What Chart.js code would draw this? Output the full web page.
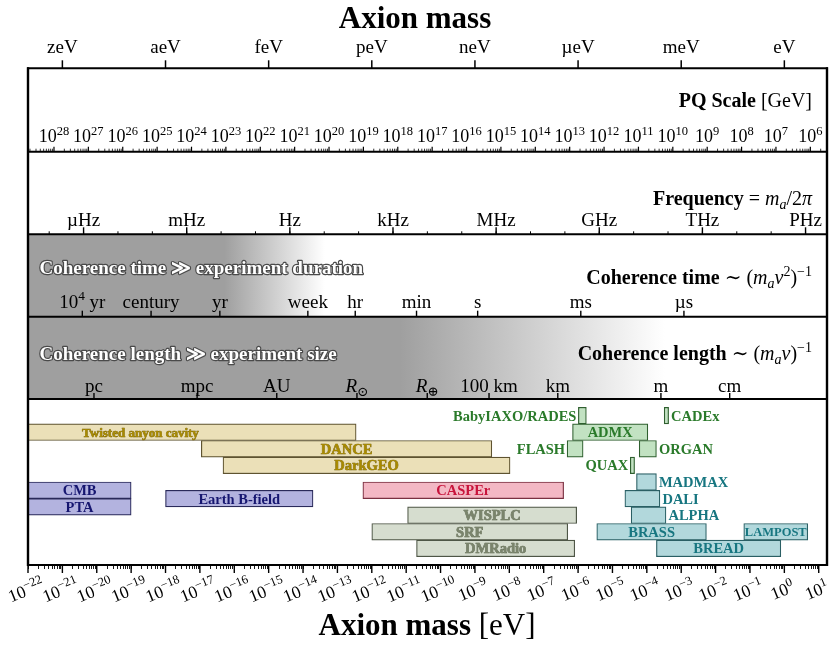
<!DOCTYPE html>
<html><head><meta charset="utf-8">
<script src="https://cdn.jsdelivr.net/npm/chart.js@4.4.1/dist/chart.umd.min.js"></script>
<style>html,body{margin:0;padding:0;background:#fff;}canvas{display:block;}</style>
</head><body>
<canvas id="c" width="838" height="648"></canvas>
<script>
// ---------------- data ----------------
const experiments = ['Twisted anyon cavity','DANCE','DarkGEO','CMB','PTA','Earth B-field','CASPEr','WISPLC','SRF','DMRadio','BabyIAXO/RADES','CADEx','ADMX','FLASH','ORGAN','QUAX','MADMAX','DALI','ALPHA','BRASS','LAMPOST','BREAD'];
const massLow  = [1e-25, 1.1e-17, 4.7e-17, 1e-22, 1e-22, 1e-18, 5.5e-13, 1.1e-11, 1e-12, 2e-11, 1.02e-6, 3.2e-4, 6.9e-7, 4.8e-7, 6e-5, 3.3e-5, 5e-5, 2.3e-5, 3.5e-5, 3.5e-6, 6.6e-2, 1.9e-4];
const massHigh = [3.5e-13, 3.1e-9, 1.05e-8, 1e-19, 1e-19, 1.95e-14, 3.8e-7, 9.1e-7, 5e-7, 8e-7, 1.74e-6, 4.3e-4, 1.07e-4, 1.4e-6, 1.9e-4, 4.4e-5, 1.9e-4, 2.4e-4, 3.6e-4, 5.4e-3, 4.8, 0.79];
const rowIndex = [1, 2, 3, 4.5, 5.5, 5, 4.5, 6, 7, 8, 0, 0, 1, 2, 2, 3, 4, 5, 6, 7, 7, 8];
const groupOf  = ['tan','tan','tan','blue','blue','blue','pink','sage','sage','sage','green','green','green','green','green','green','teal','teal','teal','teal','teal','teal'];
const labelSide = ['center','center','center','center','center','center','center','center','center','center','left','right','center','left','right','left','right','right','right','center','center','center'];

const unitLabels = ['zeV','aeV','feV','peV','neV','µeV','meV','eV'];
const unitMass   = [1e-21, 1e-18, 1e-15, 1e-12, 1e-9, 1e-6, 1e-3, 1];
const pqExponents = [28,27,26,25,24,23,22,21,20,19,18,17,16,15,14,13,12,11,10,9,8,7,6];
const freqLabels = ['µHz','mHz','Hz','kHz','MHz','GHz','THz','PHz'];
const freqHz     = [1e-6, 1e-3, 1, 1e3, 1e6, 1e9, 1e12, 1e15];
const timeLabels = ['10^{4} yr','century','yr','week','hr','min','s','ms','µs'];
const timeMass   = [3.8e-21, 3.8e-19, 3.8e-17, 1.38e-14, 3.3e-13, 2.0e-11, 1.2e-9, 1.2e-6, 1.2e-3];
const lengthLabels = ['pc','mpc','AU','$R$_{⊙}','$R$_{⊕}','100 km','km','m','cm'];
const lengthMass   = [8.3e-21, 8.3e-18, 1.72e-15, 3.7e-13, 4.1e-11, 2.57e-9, 2.57e-7, 2.57e-4, 2.57e-2];
const bottomExponents = [-22,-21,-20,-19,-18,-17,-16,-15,-14,-13,-12,-11,-10,-9,-8,-7,-6,-5,-4,-3,-2,-1,0,1];

const PLANCK = 4.1357e-15;   // eV per Hz
const PQ_CONST = 5.7e6;      // m_a [eV] * f_a [GeV]

// ---------------- styles ----------------
const SERIF = '"Liberation Serif","DejaVu Serif",serif';
const GRAY = '#9f9f9f';
const GROUP = {
  tan:   {fill:'#ebe0b8', border:'#5e5330', text:'#a88a00', stroke:'#6e5c10'},
  blue:  {fill:'#b3b3df', border:'#2a2a5a', text:'#161670'},
  pink:  {fill:'#f3b8c4', border:'#7a3040', text:'#c8143c'},
  sage:  {fill:'#d6ddcf', border:'#4e5646', text:'#7a846c', stroke:'#56604a'},
  green: {fill:'#c2e2c2', border:'#2f5f2f', text:'#2a7a2a'},
  teal:  {fill:'#b2d8dc', border:'#2a5f64', text:'#177680'}
};
const labelSize = {'Twisted anyon cavity':13, 'LAMPOST':12.5};

function font(size,bold,italic){return (italic?'italic ':'')+(bold?'bold ':'')+size+'px '+SERIF;}
function parseRich(str,size,bold){
  const segs=[];let i=0,italic=false,buf='';
  const push=(t,o)=>{if(t)segs.push(Object.assign({t:t,size:size,bold:bold,italic:italic,dy:0},o||{}));};
  while(i<str.length){
    const c=str[i];
    if((c==='^'||c==='_')&&str[i+1]==='{'){
      push(buf);buf='';
      const j=str.indexOf('}',i);
      push(str.slice(i+2,j),{size:size*0.7,dy:c==='^'?-size*0.4:size*0.22});
      i=j+1;continue;
    }
    if(c==='$'){push(buf);buf='';italic=!italic;i++;continue;}
    buf+=c;i++;
  }
  push(buf);return segs;
}
function drawRich(ctx,segs,x,y,align,stroke){
  let w=0;
  segs.forEach(s=>{ctx.font=font(s.size,s.bold,s.italic);s.w=ctx.measureText(s.t).width;w+=s.w;});
  const x0=align==='right'?x-w:align==='center'?x-w/2:x;
  ctx.textAlign='left';ctx.textBaseline='alphabetic';
  const passes=stroke?['s','f']:['f'];
  passes.forEach(p=>{let cx=x0;segs.forEach(s=>{ctx.font=font(s.size,s.bold,s.italic);
    if(p==='s')ctx.strokeText(s.t,cx,y+s.dy);else ctx.fillText(s.t,cx,y+s.dy);cx+=s.w;});});
  return w;
}
function vtick(ctx,x,y0,len){ctx.beginPath();ctx.moveTo(x,y0);ctx.lineTo(x,y0+len);ctx.stroke();}

const panels={
  id:'panels',
  afterDraw(chart){
    const ctx=chart.ctx,xs=chart.scales.x,ca=chart.chartArea;
    const L=ca.left,R=ca.right,px=v=>xs.getPixelForValue(v);
    const yTop=68.3,yPQ=151.7,yFreq=234.3,yTime=316.7,yLen=ca.top,yBot=ca.bottom;
    ctx.save();
    // shaded bands
    let g=ctx.createLinearGradient(px(5.2e-17),0,px(4.3e-14),0);
    g.addColorStop(0,GRAY);g.addColorStop(1,'#ffffff');
    ctx.fillStyle=g;ctx.fillRect(L,yFreq,R-L,yTime-yFreq);
    g=ctx.createLinearGradient(px(6.5e-12),0,px(3.3e-4),0);
    g.addColorStop(0,GRAY);g.addColorStop(1,'#ffffff');
    ctx.fillStyle=g;ctx.fillRect(L,yTime,R-L,yLen-yTime);

    ctx.fillStyle='#000';ctx.strokeStyle='#000';
    // titles
    drawRich(ctx,parseRich('Axion mass',31,true),415,28,'center');
    drawRich(ctx,parseRich('Axion mass',31,true).concat(parseRich(' [eV]',31,false)),427,635,'center');

    // top unit axis
    ctx.lineWidth=1.5;
    unitMass.forEach((m,i)=>{const x=px(m);vtick(ctx,x,yTop,-8);drawRich(ctx,parseRich(unitLabels[i],19,false),x,53.3,'center');});

    // PQ panel
    drawRich(ctx,parseRich('PQ Scale',20,true).concat(parseRich(' [GeV]',20,false)),812,107,'right');
    pqExponents.forEach(e=>{
      const m=PQ_CONST/Math.pow(10,e),x=px(m);
      ctx.lineWidth=1.2;vtick(ctx,x,yPQ,-5);
      ctx.lineWidth=0.8;
      for(let k=2;k<=9;k++){const mm=m/10*k;if(mm>=xs.min&&mm<=xs.max)vtick(ctx,px(mm),yPQ,-3);}
      drawRich(ctx,[{t:'10',size:18,bold:false,italic:false,dy:0},{t:String(e),size:12.5,bold:false,italic:false,dy:-7}],x,141.5,'center');
    });
    {const mLast=PQ_CONST/1e6;ctx.lineWidth=0.8;for(let k=2;k<=9;k++){const mm=mLast*k;if(mm<=xs.max)vtick(ctx,px(mm),yPQ,-3);}}

    // Frequency panel
    drawRich(ctx,parseRich('Frequency',20,true).concat(parseRich(' = $m_{a}$/2$π$',20,false)),812,205,'right');
    for(let e=-7;e<=15;e++){const x=px(PLANCK*Math.pow(10,e));ctx.lineWidth=1;vtick(ctx,x,yFreq,-3);}
    freqHz.forEach((f,i)=>{const x=px(PLANCK*f);ctx.lineWidth=1.4;vtick(ctx,x,yFreq,-7);drawRich(ctx,parseRich(freqLabels[i],19,false),x,226,'center');});

    // shaded-band captions
    ctx.lineWidth=2.4;ctx.strokeStyle='#4a4a4a';ctx.lineJoin='round';ctx.fillStyle='#fff';
    drawRich(ctx,parseRich('Coherence time ≫ experiment duration',19,true),39.5,274,'left',true);
    drawRich(ctx,parseRich('Coherence length ≫ experiment size',19,true),39.5,360,'left',true);
    ctx.fillStyle='#000';ctx.strokeStyle='#000';

    // Coherence time panel
    drawRich(ctx,parseRich('Coherence time',20,true).concat(parseRich(' ∼ ($m_{a}v$^{2})^{−1}',20,false)),812,283.5,'right');
    timeMass.forEach((m,i)=>{const x=px(m);ctx.lineWidth=1.4;vtick(ctx,x,yTime,-6);drawRich(ctx,parseRich(timeLabels[i],19,false),x,308,'center');});

    // Coherence length panel
    drawRich(ctx,parseRich('Coherence length',20,true).concat(parseRich(' ∼ ($m_{a}v$)^{−1}',20,false)),812,359.5,'right');
    lengthMass.forEach((m,i)=>{const x=px(m);ctx.lineWidth=1.4;vtick(ctx,x,yLen,-6);drawRich(ctx,parseRich(lengthLabels[i],19,false),x,391.5,'center');});

    // bottom axis majors + labels
    bottomExponents.forEach(e=>{
      const x=px(Math.pow(10,e));ctx.lineWidth=1.4;vtick(ctx,x,yBot,8);
      ctx.save();ctx.translate(x-2,590);ctx.rotate(-22*Math.PI/180);
      drawRich(ctx,[{t:'10',size:17.5,bold:false,italic:false,dy:0},{t:(e<0?'−':'')+Math.abs(e),size:12.5,bold:false,italic:false,dy:-7}],0,6,'center');
      ctx.restore();
    });

    // frame
    ctx.lineWidth=2;ctx.strokeStyle='#000';
    [yTop,yPQ,yFreq,yTime,yLen,yBot].forEach(y=>{ctx.beginPath();ctx.moveTo(L-1,y);ctx.lineTo(R+1,y);ctx.stroke();});
    ctx.lineWidth=2.4;
    [L,R].forEach(x=>{ctx.beginPath();ctx.moveTo(x,yTop-1);ctx.lineTo(x,yBot+1);ctx.stroke();});
    ctx.restore();
  },
  afterDatasetsDraw(chart){
    const ctx=chart.ctx,meta=chart.getDatasetMeta(0);
    ctx.save();
    meta.data.forEach((el,i)=>{
      const st=GROUP[groupOf[i]],size=labelSize[experiments[i]]||14.5;
      const lo=Math.min(el.x,el.base),hi=Math.max(el.x,el.base);
      let x,align;
      if(labelSide[i]==='left'){x=lo-2;align='right';}
      else if(labelSide[i]==='right'){x=hi+2.5;align='left';}
      else{x=(lo+hi)/2;align='center';}
      ctx.fillStyle=st.text;
      if(st.stroke){ctx.strokeStyle=st.stroke;ctx.lineWidth=0.6;ctx.lineJoin='round';}
      drawRich(ctx,parseRich(experiments[i],size,true),x,el.y+size*0.34,align,!!st.stroke);
    });
    ctx.restore();
  }
};

new Chart(document.getElementById('c'),{
  type:'bar',
  data:{datasets:[{
    data:experiments.map((n,i)=>({x:[massLow[i],massHigh[i]],y:rowIndex[i]})),
    backgroundColor:groupOf.map(g=>GROUP[g].fill),
    borderColor:groupOf.map(g=>GROUP[g].border),
    borderWidth:1.2,borderSkipped:false,barThickness:16.6,grouped:false
  }]},
  options:{
    indexAxis:'y',responsive:false,animation:false,devicePixelRatio:1,
    layout:{padding:{left:28,right:11,top:399,bottom:79}},
    plugins:{legend:{display:false},tooltip:{enabled:false}},
    scales:{
      x:{type:'logarithmic',position:'bottom',min:1e-22,max:17.4,bounds:'data',
        afterBuildTicks(ax){const t=[];for(let e=-22;e<=1;e++)for(let k=1;k<=9;k++){const v=k*Math.pow(10,e);if(v>=ax.min*0.999&&v<=ax.max)t.push({value:v,major:k===1});}ax.ticks=t;},
        ticks:{display:false},
        grid:{drawOnChartArea:false,drawTicks:true,tickLength:4,color:'#000',tickColor:'#000',tickWidth:0.9},
        border:{display:false}},
      y:{type:'linear',min:-1,max:9,reverse:true,offset:false,display:false,grid:{offset:false}}
    }
  },
  plugins:[panels]
});
</script>
</body></html>
